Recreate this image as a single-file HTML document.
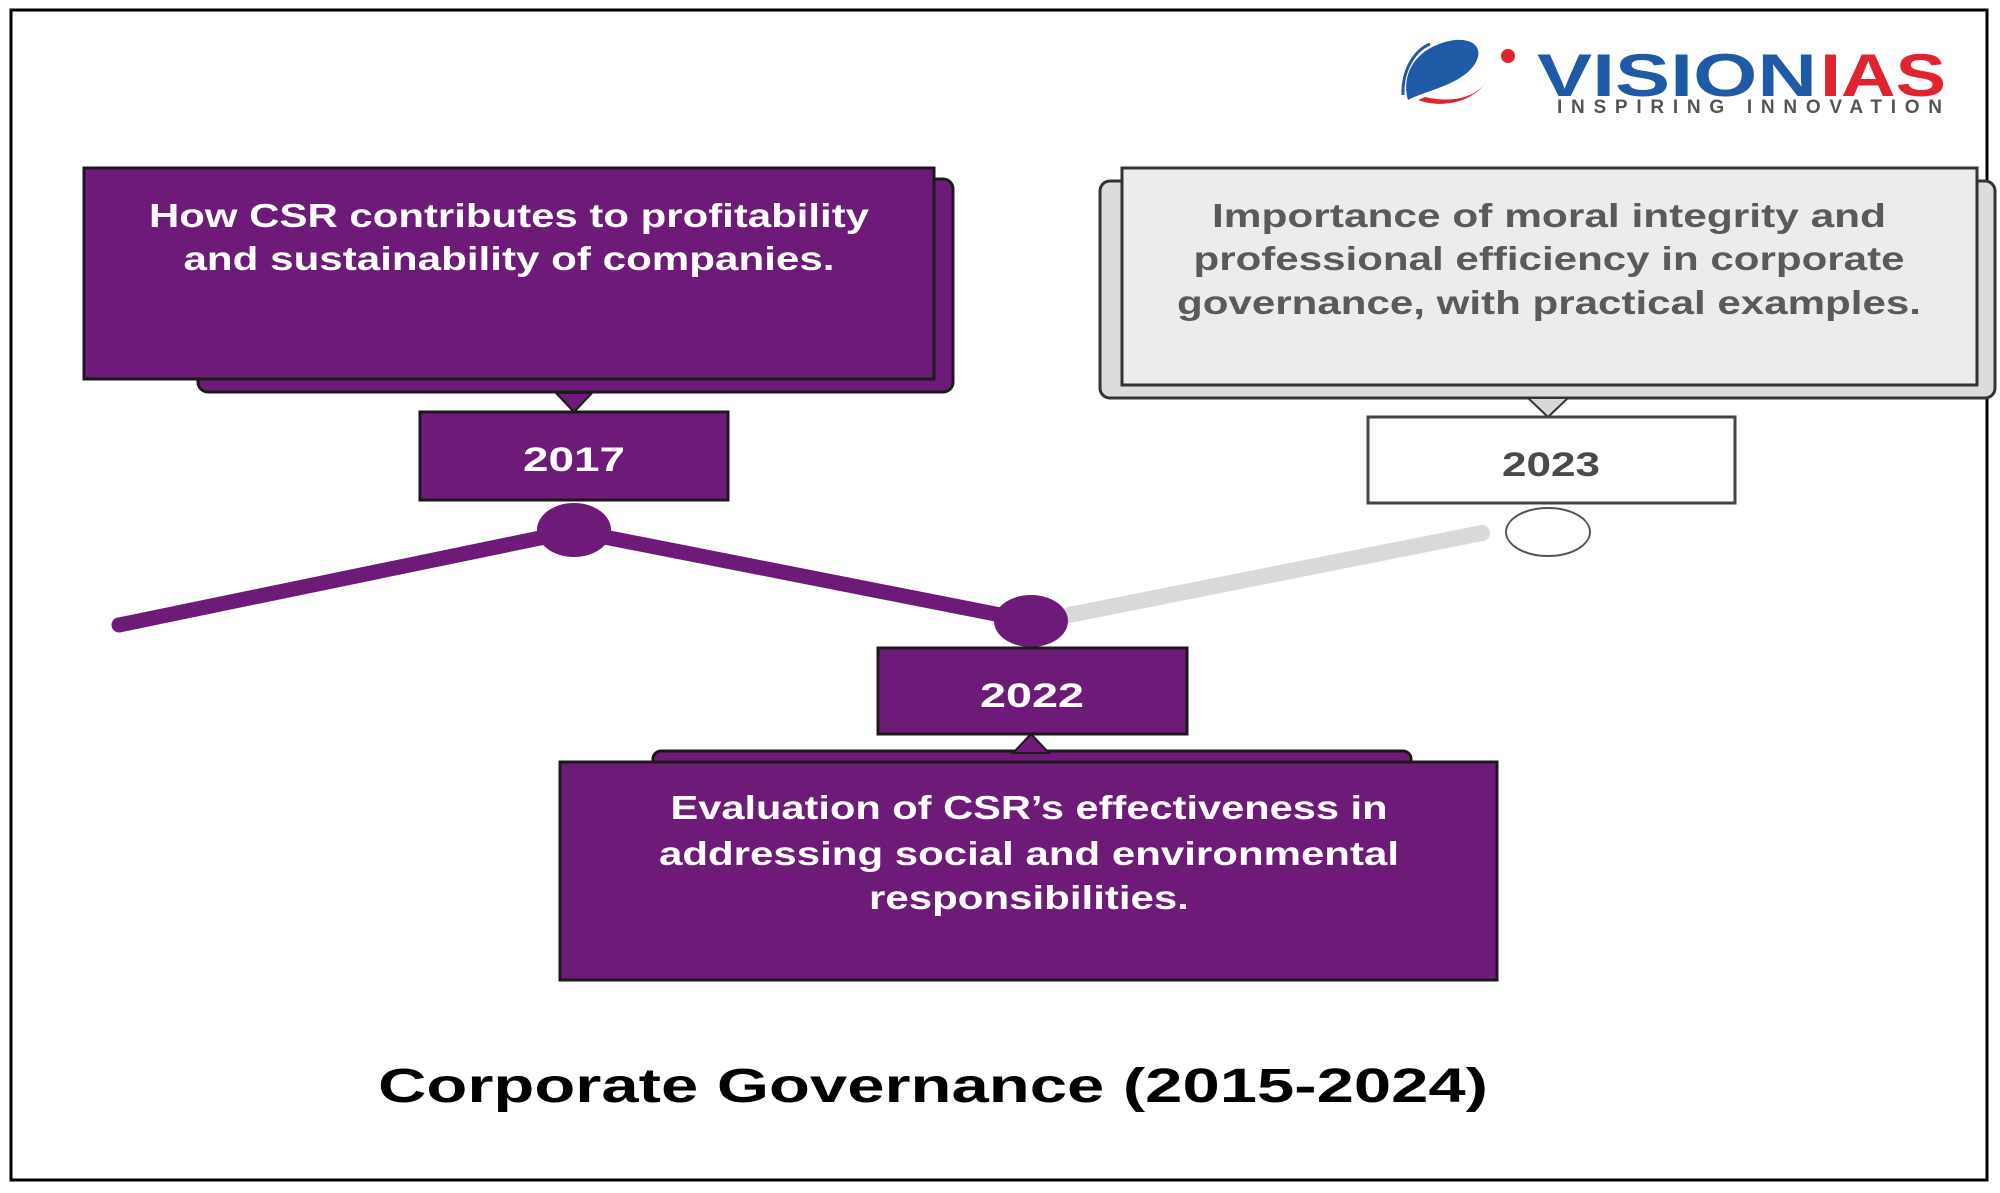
<!DOCTYPE html>
<html><head><meta charset="utf-8"><style>
html,body{margin:0;padding:0;background:#fff;}
svg{display:block;}
text{font-family:"Liberation Sans",sans-serif;}
</style></head><body>
<svg width="2000" height="1193" viewBox="0 0 2000 1193" xmlns="http://www.w3.org/2000/svg">
<rect x="11" y="10" width="1976" height="1170" fill="#fff" stroke="#000" stroke-width="3"/>

<!-- logo -->
<path d="M1408,100 C1400,70 1420,45 1455,40 C1480,38 1485,55 1470,70 C1455,85 1430,90 1412,98 Z" fill="#1f5aa6"/>
<path d="M1403,95 C1402,70 1415,50 1430,44" fill="none" stroke="#1f5aa6" stroke-width="3"/>
<path d="M1418,100 C1445,110 1478,100 1488,78 C1480,96 1455,104 1425,97 Z" fill="#e0242f"/>
<circle cx="1508" cy="56" r="7" fill="#e0242f"/>
<text x="1537" y="96" font-size="60" font-weight="bold" fill="#1f5aa6" textLength="280" lengthAdjust="spacingAndGlyphs">VISION</text>
<text x="1820" y="96" font-size="60" font-weight="bold" fill="#e0242f" textLength="126" lengthAdjust="spacingAndGlyphs">IAS</text>
<text x="1557" y="113" font-size="19" font-weight="bold" fill="#555" textLength="385" lengthAdjust="spacing">INSPIRING  INNOVATION</text>

<!-- 2017 box -->
<rect x="198" y="179" width="755" height="213" rx="10" fill="#6e1a78" stroke="#1a1a1a" stroke-width="3"/>
<rect x="84" y="168" width="850" height="211" fill="#6e1a78" stroke="#1a1a1a" stroke-width="3"/>
<text x="509" y="227" font-size="33" font-weight="bold" fill="#fff" text-anchor="middle" textLength="720" lengthAdjust="spacingAndGlyphs">How CSR contributes to profitability</text>
<text x="509" y="270" font-size="33" font-weight="bold" fill="#fff" text-anchor="middle" textLength="651" lengthAdjust="spacingAndGlyphs">and sustainability of companies.</text>
<polygon points="556,393 592,393 574,412" fill="#6e1a78" stroke="#1a1a1a" stroke-width="2"/>
<rect x="420" y="412" width="308" height="88" fill="#6e1a78" stroke="#1a1a1a" stroke-width="3"/>
<text x="574" y="471" font-size="34" font-weight="bold" fill="#fff" text-anchor="middle" textLength="102" lengthAdjust="spacingAndGlyphs">2017</text>

<!-- 2023 box -->
<rect x="1100" y="181" width="895" height="217" rx="10" fill="#dcdcdc" stroke="#333" stroke-width="3"/>
<rect x="1122" y="168" width="855" height="217" fill="#ececec" stroke="#333" stroke-width="3"/>
<text x="1549" y="227" font-size="33" font-weight="bold" fill="#5a5a5a" text-anchor="middle" textLength="674" lengthAdjust="spacingAndGlyphs">Importance of moral integrity and</text>
<text x="1549" y="270" font-size="33" font-weight="bold" fill="#5a5a5a" text-anchor="middle" textLength="711" lengthAdjust="spacingAndGlyphs">professional efficiency in corporate</text>
<text x="1549" y="314" font-size="33" font-weight="bold" fill="#5a5a5a" text-anchor="middle" textLength="744" lengthAdjust="spacingAndGlyphs">governance, with practical examples.</text>
<polygon points="1528,398 1568,398 1548,417" fill="#d8d8d8" stroke="#333" stroke-width="2"/>
<rect x="1368" y="417" width="367" height="86" fill="#fff" stroke="#444" stroke-width="3"/>
<text x="1551" y="476" font-size="34" font-weight="bold" fill="#4a4a4a" text-anchor="middle" textLength="98" lengthAdjust="spacingAndGlyphs">2023</text>

<!-- lines -->
<polyline points="1069,615 1482,533" fill="none" stroke="#d9d9d9" stroke-width="16" stroke-linecap="round"/>
<polyline points="119,625 574,531 1031,621" fill="none" stroke="#6e1a78" stroke-width="15" stroke-linecap="round" stroke-linejoin="round"/>
<ellipse cx="574" cy="530" rx="37" ry="27" fill="#6e1a78"/>
<ellipse cx="1031" cy="621" rx="37" ry="26" fill="#6e1a78"/>
<ellipse cx="1548" cy="532" rx="42" ry="24" fill="#fff" stroke="#555" stroke-width="2"/>

<!-- 2022 -->
<rect x="878" y="648" width="309" height="86" fill="#6e1a78" stroke="#1a1a1a" stroke-width="3"/>
<text x="1032" y="707" font-size="34" font-weight="bold" fill="#fff" text-anchor="middle" textLength="104" lengthAdjust="spacingAndGlyphs">2022</text>
<rect x="653" y="751" width="758" height="24" rx="8" fill="#6e1a78" stroke="#1a1a1a" stroke-width="3"/>
<polygon points="1013,753 1049,753 1031,734" fill="#6e1a78" stroke="#1a1a1a" stroke-width="2"/>
<rect x="560" y="762" width="937" height="218" fill="#6e1a78" stroke="#1a1a1a" stroke-width="3"/>
<text x="1029" y="819" font-size="33" font-weight="bold" fill="#fff" text-anchor="middle" textLength="717" lengthAdjust="spacingAndGlyphs">Evaluation of CSR’s effectiveness in</text>
<text x="1029" y="865" font-size="33" font-weight="bold" fill="#fff" text-anchor="middle" textLength="740" lengthAdjust="spacingAndGlyphs">addressing social and environmental</text>
<text x="1029" y="909" font-size="33" font-weight="bold" fill="#fff" text-anchor="middle" textLength="320" lengthAdjust="spacingAndGlyphs">responsibilities.</text>

<text x="378" y="1102" font-size="48" font-weight="bold" fill="#000" textLength="1110" lengthAdjust="spacingAndGlyphs">Corporate Governance (2015-2024)</text>
</svg>
</body></html>
